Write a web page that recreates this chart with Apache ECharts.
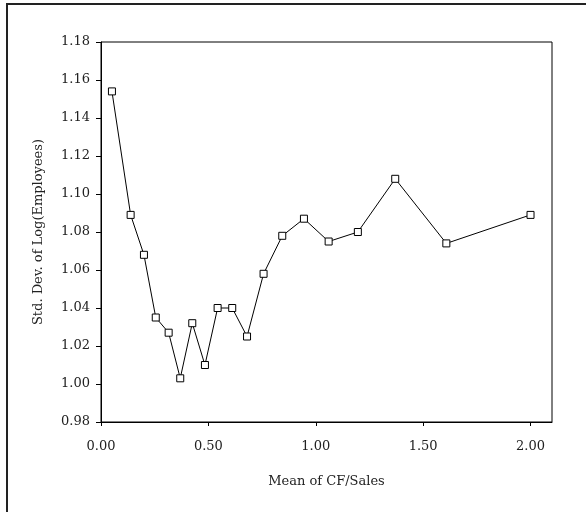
<!DOCTYPE html>
<html>
<head>
<meta charset="utf-8">
<script src="https://cdn.jsdelivr.net/npm/echarts@6/dist/echarts.min.js"></script>
<style>
  html, body { margin: 0; padding: 0; background: #fff; }
  #main { width: 586px; height: 512px; }
</style>
</head>
<body>
<div id="main"></div>
<script>
// mean of CF/Sales per group
var cfSales = [0.051, 0.138, 0.200, 0.255, 0.315, 0.369, 0.425, 0.484, 0.543, 0.611,
  0.680, 0.757, 0.844, 0.945, 1.060, 1.196, 1.370, 1.608, 2.000];
// std dev of log(employees)
var stdLogEmp = [1.154, 1.089, 1.068, 1.035, 1.027, 1.003, 1.032, 1.010, 1.040, 1.040,
  1.025, 1.058, 1.078, 1.087, 1.075, 1.080, 1.108, 1.074, 1.089];

var points = [];
for (var i = 0; i < cfSales.length; i++) {
  points.push([cfSales[i], stdLogEmp[i]]);
}

var font = 'DejaVu Serif, Liberation Serif, serif';
var myChart = echarts.init(document.getElementById('main'));
myChart.setOption({
  animation: false,
  grid: {
    left: 101, top: 42, right: 34, bottom: 90,
    show: true, borderColor: '#000', borderWidth: 1,
    containLabel: false
  },
  // frame around the figure (only left and top edges show)
  graphic: [
    { type: 'line', shape: { x1: 7, y1: 4, x2: 7, y2: 512 }, style: { stroke: '#222', lineWidth: 2 } },
    { type: 'line', shape: { x1: 6, y1: 4, x2: 586, y2: 4 }, style: { stroke: '#222', lineWidth: 2 } }
  ],
  xAxis: {
    type: 'value',
    min: 0, max: 2.1, interval: 0.5,
    name: 'Mean of CF/Sales',
    nameLocation: 'middle',
    nameGap: 53,
    nameTextStyle: { color: '#222', fontFamily: font, fontSize: 13 },
    axisLine: { lineStyle: { color: '#000', width: 1 } },
    axisTick: { show: true, length: 4, lineStyle: { color: '#000' } },
    splitLine: { show: false },
    axisLabel: {
      color: '#222', fontFamily: font, fontSize: 13, margin: 18,
      formatter: function (v) { return v.toFixed(2); },
      showMaxLabel: false
    }
  },
  yAxis: {
    type: 'value',
    min: 0.98, max: 1.18, interval: 0.02,
    name: 'Std. Dev. of Log(Employees)',
    nameLocation: 'middle',
    nameGap: 56,
    nameTextStyle: { color: '#222', fontFamily: font, fontSize: 13 },
    axisLine: { show: true, lineStyle: { color: '#000', width: 1 } },
    axisTick: { show: true, length: 5, lineStyle: { color: '#000' } },
    splitLine: { show: false },
    axisLabel: {
      color: '#222', fontFamily: font, fontSize: 13, margin: 11,
      formatter: function (v) { return v.toFixed(2); }
    }
  },
  series: [{
    type: 'line',
    data: points,
    symbol: 'rect',
    symbolSize: 7,
    lineStyle: { color: '#000', width: 1 },
    itemStyle: { color: '#fff', borderColor: '#000', borderWidth: 1 }
  }]
});
</script>
</body>
</html>
